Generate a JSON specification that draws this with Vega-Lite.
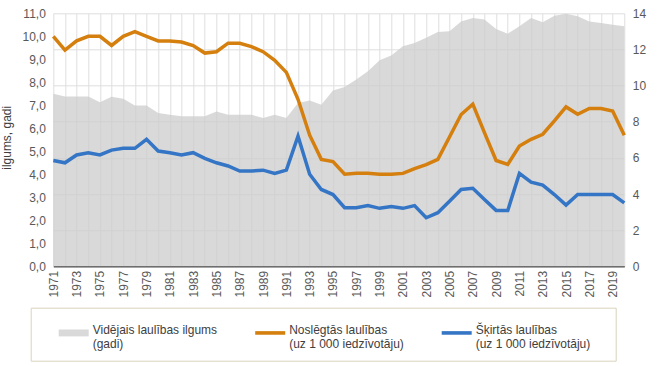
{
  "$schema": "https://vega.github.io/schema/vega-lite/v6.json",
  "width": 571,
  "height": 253,
  "autosize": {"type": "none"},
  "padding": {"left": 53.3, "top": 13.3, "right": 45.7, "bottom": 99.4},
  "background": "white",
  "config": {
    "view": {"stroke": null},
    "font": "Liberation Sans",
    "axis": {"labelFont": "Liberation Sans", "labelFontSize": 12, "labelColor": "#595959", "titleFont": "Liberation Sans"}
  },
  "data": {
    "values": [
      {"year": 1971, "dur": 9.55, "mar": 10.0, "div": 4.6},
      {"year": 1972, "dur": 9.4, "mar": 9.4, "div": 4.5},
      {"year": 1973, "dur": 9.4, "mar": 9.8, "div": 4.84},
      {"year": 1974, "dur": 9.4, "mar": 10.0, "div": 4.94},
      {"year": 1975, "dur": 9.08, "mar": 10.0, "div": 4.84},
      {"year": 1976, "dur": 9.38, "mar": 9.6, "div": 5.05},
      {"year": 1977, "dur": 9.27, "mar": 10.0, "div": 5.13},
      {"year": 1978, "dur": 8.9, "mar": 10.2, "div": 5.13},
      {"year": 1979, "dur": 8.9, "mar": 10.0, "div": 5.52},
      {"year": 1980, "dur": 8.48, "mar": 9.8, "div": 5.01},
      {"year": 1981, "dur": 8.39, "mar": 9.8, "div": 4.94},
      {"year": 1982, "dur": 8.3, "mar": 9.75, "div": 4.84},
      {"year": 1983, "dur": 8.3, "mar": 9.6, "div": 4.94},
      {"year": 1984, "dur": 8.3, "mar": 9.27, "div": 4.69},
      {"year": 1985, "dur": 8.57, "mar": 9.33, "div": 4.5},
      {"year": 1986, "dur": 8.39, "mar": 9.7, "div": 4.36},
      {"year": 1987, "dur": 8.39, "mar": 9.7, "div": 4.14},
      {"year": 1988, "dur": 8.39, "mar": 9.55, "div": 4.14},
      {"year": 1989, "dur": 8.2, "mar": 9.33, "div": 4.18},
      {"year": 1990, "dur": 8.39, "mar": 8.96, "div": 4.04},
      {"year": 1991, "dur": 8.2, "mar": 8.43, "div": 4.18},
      {"year": 1992, "dur": 9.04, "mar": 7.26, "div": 5.66},
      {"year": 1993, "dur": 9.18, "mar": 5.7, "div": 4.0},
      {"year": 1994, "dur": 8.94, "mar": 4.65, "div": 3.34},
      {"year": 1995, "dur": 9.73, "mar": 4.55, "div": 3.12},
      {"year": 1996, "dur": 9.92, "mar": 4.0, "div": 2.55},
      {"year": 1997, "dur": 10.33, "mar": 4.05, "div": 2.55},
      {"year": 1998, "dur": 10.79, "mar": 4.05, "div": 2.64},
      {"year": 1999, "dur": 11.4, "mar": 4.0, "div": 2.52},
      {"year": 2000, "dur": 11.66, "mar": 4.0, "div": 2.6},
      {"year": 2001, "dur": 12.17, "mar": 4.04, "div": 2.52},
      {"year": 2002, "dur": 12.36, "mar": 4.25, "div": 2.64},
      {"year": 2003, "dur": 12.65, "mar": 4.42, "div": 2.11},
      {"year": 2004, "dur": 12.97, "mar": 4.65, "div": 2.33},
      {"year": 2005, "dur": 13.0, "mar": 5.62, "div": 2.83},
      {"year": 2006, "dur": 13.55, "mar": 6.6, "div": 3.34},
      {"year": 2007, "dur": 13.74, "mar": 7.05, "div": 3.39},
      {"year": 2008, "dur": 13.65, "mar": 5.81, "div": 2.9},
      {"year": 2009, "dur": 13.13, "mar": 4.6, "div": 2.43},
      {"year": 2010, "dur": 12.87, "mar": 4.43, "div": 2.43},
      {"year": 2011, "dur": 13.28, "mar": 5.23, "div": 4.04},
      {"year": 2012, "dur": 13.74, "mar": 5.52, "div": 3.66},
      {"year": 2013, "dur": 13.5, "mar": 5.74, "div": 3.53},
      {"year": 2014, "dur": 13.87, "mar": 6.32, "div": 3.12},
      {"year": 2015, "dur": 13.98, "mar": 6.93, "div": 2.66},
      {"year": 2016, "dur": 13.83, "mar": 6.61, "div": 3.12},
      {"year": 2017, "dur": 13.55, "mar": 6.86, "div": 3.12},
      {"year": 2018, "dur": 13.47, "mar": 6.86, "div": 3.12},
      {"year": 2019, "dur": 13.37, "mar": 6.75, "div": 3.12},
      {"year": 2020, "dur": 13.28, "mar": 5.7, "div": 2.76}
    ]
  },
  "transform": [{"fold": ["dur", "mar", "div"], "as": ["series", "value"]}],
  "encoding": {
    "x": {
      "field": "year",
      "type": "ordinal",
      "scale": {"type": "point", "padding": 0},
      "axis": {
        "title": null,
        "labelAngle": -90,
        "labelExpr": "datum.value % 2 == 1 ? datum.label : ''",
        "labelPadding": 4,
        "ticks": false,
        "grid": true,
        "gridColor": "#dedede",
        "domainColor": "#595959",
        "domainWidth": 1.5
      }
    },
    "color": {
      "field": "series",
      "type": "nominal",
      "scale": {"domain": ["dur", "mar", "div"], "range": ["#cccccc", "#d47f0e", "#3575c5"]},
      "legend": {
        "orient": "none",
        "legendX": -22.6,
        "legendY": 294.4,
        "direction": "horizontal",
        "columns": 3,
        "title": "\u00a0",
        "titleOrient": "right",
        "titlePadding": 15,
        "titleFontSize": 12,
        "padding": 10,
        "strokeColor": "#d9d4bc",
        "symbolSize": 900,
        "symbolStrokeWidth": 0,
        "symbolOffset": 18,
        "columnPadding": 19.5,
        "labelOffset": 4,
        "labelFont": "Liberation Sans",
        "labelFontSize": 12,
        "labelColor": "#404040",
        "labelBaseline": "top",
        "labelExpr": "datum.label == 'dur' ? ['Vidējais laulības ilgums', '\u00a0(gadi)'] : datum.label == 'mar' ? ['Noslēgtās laulības', '\u00a0(uz 1 000 iedzīvotāju)'] : ['Šķirtās laulības', '\u00a0\u00a0(uz 1 000 iedzīvotāju)']",
        "encode": {
          "symbols": {
            "update": {
              "shape": {"signal": "datum.value == 'dur' ? 'M-1,-0.23H1V0.23H-1Z' : 'M-1,-0.12H1V0.12H-1Z'"},
              "fill": {"signal": "scale('color', datum.value)"},
              "opacity": {"signal": "datum.value == 'dur' ? 0.75 : 1"},
              "strokeWidth": {"value": 0}
            }
          },
          "labels": {"update": {"dy": {"value": -7.5}}}
        }
      }
    }
  },
  "layer": [
    {
      "transform": [{"filter": "datum.series == 'dur'"}],
      "mark": {"type": "area", "opacity": 0.75},
      "encoding": {
        "y": {
          "field": "value",
          "type": "quantitative",
          "scale": {"domain": [0, 14], "nice": false},
          "axis": {
            "orient": "right",
            "title": null,
            "values": [0, 2, 4, 6, 8, 10, 12, 14],
            "domain": false,
            "ticks": false,
            "grid": true,
            "gridColor": "#dedede",
            "labelPadding": 8
          }
        }
      }
    },
    {
      "transform": [{"filter": "datum.series != 'dur'"}],
      "mark": {"type": "line", "strokeWidth": 3.5},
      "encoding": {
        "y": {
          "field": "value",
          "type": "quantitative",
          "scale": {"domain": [0, 11], "nice": false},
          "axis": {
            "orient": "left",
            "title": "ilgums, gadi",
            "titleFontSize": 12,
            "titleFontWeight": "normal",
            "titleColor": "#404040",
            "titleAngle": 270,
            "titleBaseline": "bottom",
            "titleAlign": "center",
            "titleX": -40,
            "titleY": 124,
            "values": [0, 1, 2, 3, 4, 5, 6, 7, 8, 9, 10, 11],
            "labelExpr": "replace(format(datum.value, '.1f'), '.', ',')",
            "domain": false,
            "ticks": false,
            "grid": false,
            "labelPadding": 8
          }
        }
      }
    }
  ],
  "resolve": {"scale": {"y": "independent"}}
}
